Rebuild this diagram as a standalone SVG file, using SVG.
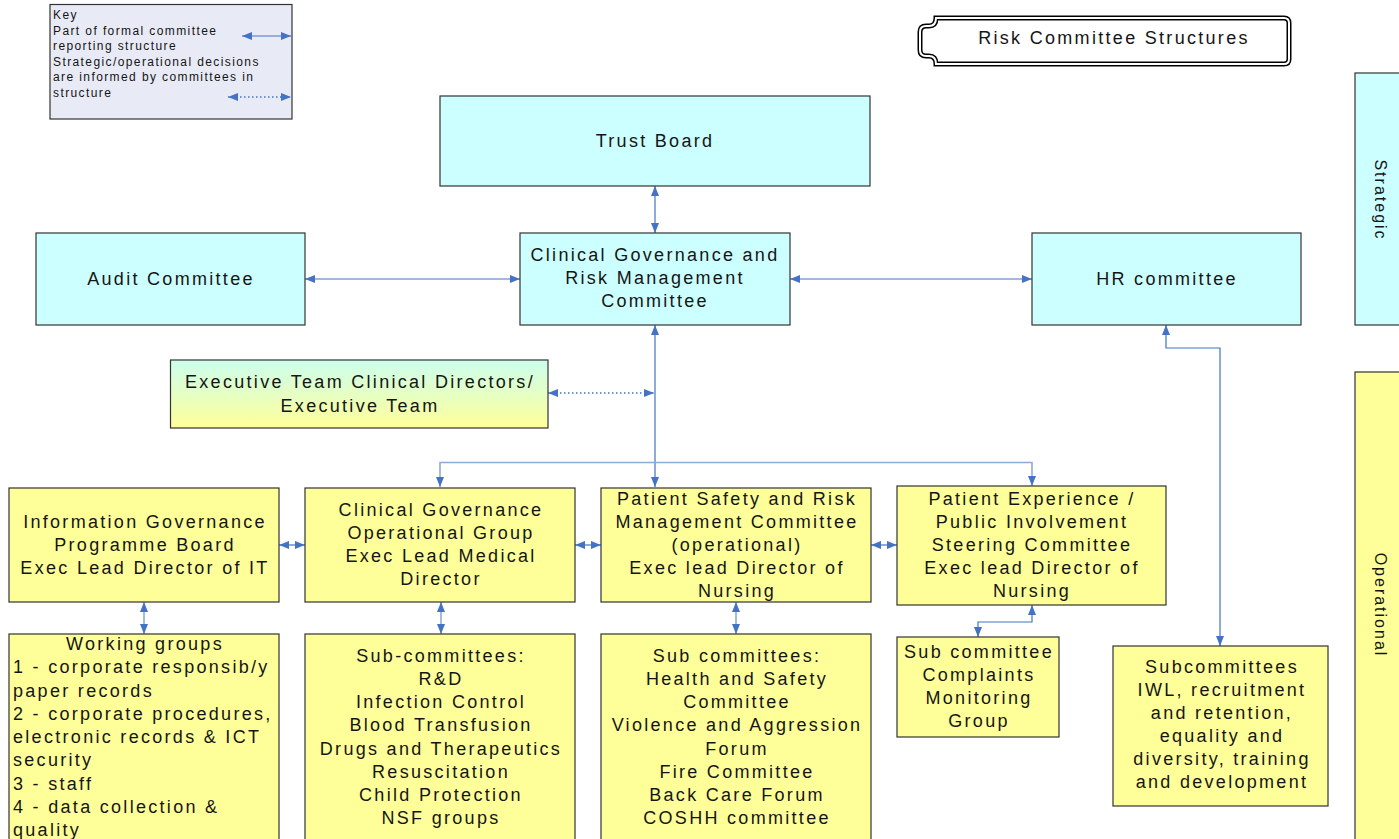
<svg xmlns="http://www.w3.org/2000/svg" width="1399" height="839" viewBox="0 0 1399 839">
<style>
text{font-family:"Liberation Sans",Arial,sans-serif;fill:#151515}
.t{font-size:18px;letter-spacing:2.3px;text-anchor:middle}
.tl{font-size:18px;letter-spacing:2.3px;text-anchor:start}
.k{font-size:12px;letter-spacing:1.4px}
.c{fill:#ccffff;stroke:#333;stroke-width:1.2}
.y{fill:#ffff99;stroke:#333;stroke-width:1.2}
.d{fill:none;stroke:#4472c4;stroke-width:1.2;marker-start:url(#a);marker-end:url(#a)}
.l{fill:none;stroke:#8eaadb;stroke-width:1.6;marker-start:url(#a);marker-end:url(#a)}
.dot{fill:none;stroke:#4472c4;stroke-width:1.3;stroke-dasharray:1.5 2.5;marker-start:url(#a);marker-end:url(#a)}
</style>
<defs>
<marker id="a" viewBox="0 0 10 8" refX="10" refY="4" markerWidth="10" markerHeight="8" markerUnits="userSpaceOnUse" orient="auto-start-reverse"><path d="M0,0 L10,4 L0,8 Z" fill="#4472c4"/></marker>
<linearGradient id="g" x1="0" y1="0" x2="0" y2="1"><stop offset="0" stop-color="#ccffee"/><stop offset="1" stop-color="#ffff99"/></linearGradient>
<path id="frame" d="M936,18 H1284 Q1289,18 1289,23 V59 Q1289,64 1284,64 H936 Q936,56 929,56 H926 Q920,56 920,50 V32 Q920,26 926,26 H929 Q936,26 936,18 Z"/>
</defs>
<rect width="1399" height="839" fill="#fff"/>

<g id="key">
<rect x="50" y="4.5" width="242" height="114.5" fill="#e8ebf5" stroke="#333" stroke-width="1.2"/>
<text class="k" x="53" y="19">Key</text>
<text class="k" x="53" y="35">Part of formal committee</text>
<text class="k" x="53" y="50">reporting structure</text>
<text class="k" x="53" y="66">Strategic/operational decisions</text>
<text class="k" x="53" y="81">are informed by committees in</text>
<text class="k" x="53" y="96.5">structure</text>
<path class="d" d="M242,36 H291"/>
<path class="dot" d="M228,97 H291"/>
</g>

<g id="title">
<use href="#frame" fill="#fff" stroke="#000" stroke-width="5"/>
<use href="#frame" fill="none" stroke="#fff" stroke-width="2"/>
<text class="t" x="1114" y="43.5">Risk Committee Structures</text>
</g>

<g id="strategic">
<rect x="1355" y="73" width="50" height="252" class="c"/>
<text transform="translate(1380,200) rotate(90)" y="5.5" style="font-size:16px;letter-spacing:2px;text-anchor:middle">Strategic</text>
</g>
<g id="operational">
<rect x="1355" y="372" width="50" height="470" class="y"/>
<text transform="translate(1380,605) rotate(90)" y="5.5" style="font-size:16px;letter-spacing:2px;text-anchor:middle">Operational</text>
</g>

<g id="connectors">
<path class="d" d="M655,186 V233"/>
<path class="d" d="M305,279 H520"/>
<path class="d" d="M790,279 H1032"/>
<path class="d" d="M655,325 V487"/>
<path class="dot" d="M548,393 H654"/>
<path class="l" d="M440,487 V462.5 H1032 V486"/>
<path class="d" d="M1166,325 V348 H1220 V646"/>
<path class="d" d="M279,545 H305"/>
<path class="d" d="M575,545 H601"/>
<path class="d" d="M871,545 H897"/>
<path class="l" d="M144,602 V634"/>
<path class="l" d="M441,602 V634"/>
<path class="l" d="M736,602 V634"/>
<path class="d" d="M1032,605 V622 H978 V637"/>
</g>

<g id="trust-board">
<rect x="440" y="96" width="430" height="90" class="c"/>
<text class="t" x="655" y="147">Trust Board</text>
</g>
<g id="cgrm">
<rect x="520" y="233" width="270" height="92" class="c"/>
<text class="t" x="655" y="261">Clinical Governance and</text>
<text class="t" x="655" y="284">Risk Management</text>
<text class="t" x="655" y="307">Committee</text>
</g>
<g id="audit">
<rect x="36" y="233" width="269" height="92" class="c"/>
<text class="t" x="171" y="285">Audit Committee</text>
</g>
<g id="hr">
<rect x="1032" y="233" width="269" height="92" class="c"/>
<text class="t" x="1167" y="285">HR committee</text>
</g>
<g id="exec-team">
<rect x="170.5" y="360" width="377.5" height="68" fill="url(#g)" stroke="#333" stroke-width="1.2"/>
<text class="t" x="360" y="388">Executive Team Clinical Directors/</text>
<text class="t" x="360" y="412">Executive Team</text>
</g>

<g id="info-gov">
<rect x="9" y="488" width="270" height="114" class="y"/>
<text class="t" x="145" y="528">Information Governance</text>
<text class="t" x="145" y="551">Programme Board</text>
<text class="t" x="145" y="574">Exec Lead Director of IT</text>
</g>
<g id="cgog">
<rect x="305" y="488" width="270" height="114" class="y"/>
<text class="t" x="441" y="516">Clinical Governance</text>
<text class="t" x="441" y="539">Operational Group</text>
<text class="t" x="441" y="562">Exec Lead Medical</text>
<text class="t" x="441" y="585">Director</text>
</g>
<g id="psrm">
<rect x="601" y="488" width="270" height="114" class="y"/>
<text class="t" x="737" y="505">Patient Safety and Risk</text>
<text class="t" x="737" y="528">Management Committee</text>
<text class="t" x="737" y="551">(operational)</text>
<text class="t" x="737" y="574">Exec lead Director of</text>
<text class="t" x="737" y="597">Nursing</text>
</g>
<g id="patient-experience">
<rect x="897" y="486" width="269" height="119" class="y"/>
<text class="t" x="1032" y="505">Patient Experience /</text>
<text class="t" x="1032" y="528">Public Involvement</text>
<text class="t" x="1032" y="551">Steering Committee</text>
<text class="t" x="1032" y="574">Exec lead Director of</text>
<text class="t" x="1032" y="597">Nursing</text>
</g>

<g id="working-groups">
<rect x="9" y="634" width="270" height="210" class="y"/>
<text class="t" x="145" y="650">Working groups</text>
<text class="tl" x="13" y="673">1 - corporate responsib/y</text>
<text class="tl" x="13" y="697">paper records</text>
<text class="tl" x="13" y="720">2 - corporate procedures,</text>
<text class="tl" x="13" y="743">electronic records &amp; ICT</text>
<text class="tl" x="13" y="766">security</text>
<text class="tl" x="13" y="790">3 - staff</text>
<text class="tl" x="13" y="813">4 - data collection &amp;</text>
<text class="tl" x="13" y="836">quality</text>
</g>
<g id="cg-subcommittees">
<rect x="305" y="634" width="270" height="210" class="y"/>
<text class="t" x="441" y="662">Sub-committees:</text>
<text class="t" x="441" y="685">R&amp;D</text>
<text class="t" x="441" y="708">Infection Control</text>
<text class="t" x="441" y="731">Blood Transfusion</text>
<text class="t" x="441" y="755">Drugs and Therapeutics</text>
<text class="t" x="441" y="778">Resuscitation</text>
<text class="t" x="441" y="801">Child Protection</text>
<text class="t" x="441" y="824">NSF groups</text>
</g>
<g id="ps-subcommittees">
<rect x="601" y="634" width="270" height="210" class="y"/>
<text class="t" x="737" y="662">Sub committees:</text>
<text class="t" x="737" y="685">Health and Safety</text>
<text class="t" x="737" y="708">Committee</text>
<text class="t" x="737" y="731">Violence and Aggression</text>
<text class="t" x="737" y="755">Forum</text>
<text class="t" x="737" y="778">Fire Committee</text>
<text class="t" x="737" y="801">Back Care Forum</text>
<text class="t" x="737" y="824">COSHH committee</text>
</g>
<g id="complaints">
<rect x="897" y="637" width="162" height="100" class="y"/>
<text class="t" x="979" y="658">Sub committee</text>
<text class="t" x="979" y="681">Complaints</text>
<text class="t" x="979" y="704">Monitoring</text>
<text class="t" x="979" y="727">Group</text>
</g>
<g id="hr-subcommittees">
<rect x="1113" y="646" width="215" height="160" class="y"/>
<text class="t" x="1222" y="673">Subcommittees</text>
<text class="t" x="1222" y="696">IWL, recruitment</text>
<text class="t" x="1222" y="719">and retention,</text>
<text class="t" x="1222" y="742">equality and</text>
<text class="t" x="1222" y="765">diversity, training</text>
<text class="t" x="1222" y="788">and development</text>
</g>
</svg>
